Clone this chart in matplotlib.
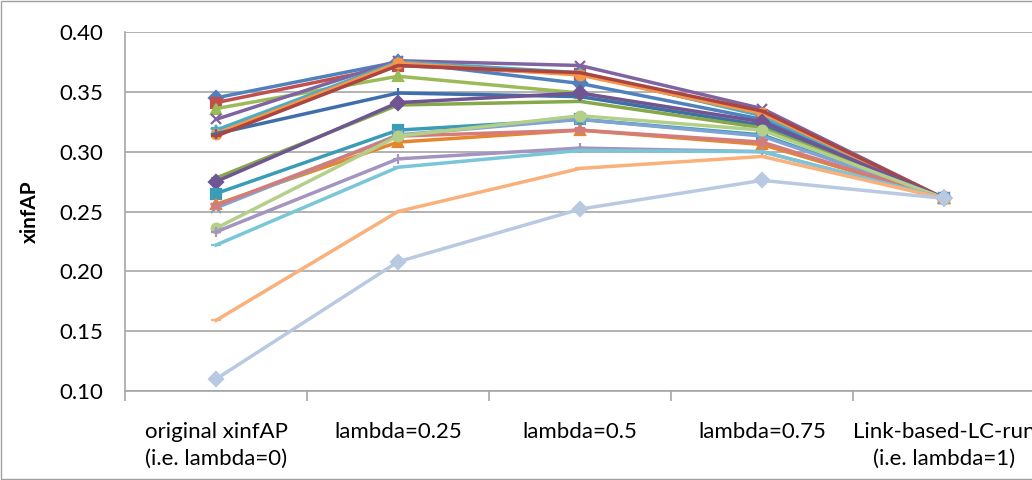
import matplotlib
matplotlib.use("Agg")
import matplotlib.pyplot as plt
from matplotlib.patches import Rectangle

plt.rcParams['font.family'] = ['Lato', 'DejaVu Sans']

categories = ["original xinfAP\n(i.e. lambda=0)", "lambda=0.25", "lambda=0.5",
              "lambda=0.75", "Link-based-LC-run\n(i.e. lambda=1)"]

# one list per run
s1 = [0.345, 0.375, 0.357, 0.327, 0.261]
s2 = [0.341, 0.372, 0.365, 0.331, 0.261]
s3 = [0.336, 0.363, 0.349, 0.322, 0.261]
s4 = [0.327, 0.376, 0.372, 0.336, 0.261]
s5 = [0.318, 0.375, 0.366, 0.330, 0.261]
s6 = [0.315, 0.374, 0.364, 0.332, 0.261]
s7 = [0.315, 0.349, 0.346, 0.322, 0.261]
s8 = [0.313, 0.372, 0.366, 0.334, 0.261]
s9 = [0.278, 0.339, 0.342, 0.320, 0.261]
s10 = [0.275, 0.341, 0.349, 0.325, 0.261]
s11 = [0.265, 0.318, 0.327, 0.314, 0.261]
s12 = [0.256, 0.308, 0.318, 0.306, 0.261]
s13 = [0.253, 0.314, 0.327, 0.313, 0.261]
s14 = [0.255, 0.313, 0.318, 0.308, 0.261]
s15 = [0.236, 0.313, 0.330, 0.318, 0.261]
s16 = [0.233, 0.294, 0.303, 0.300, 0.261]
s17 = [0.222, 0.287, 0.301, 0.300, 0.261]
s18 = [0.159, 0.250, 0.286, 0.296, 0.261]
s19 = [0.110, 0.208, 0.252, 0.276, 0.261]

series = [s1, s2, s3, s4, s5, s6, s7, s8, s9, s10,
          s11, s12, s13, s14, s15, s16, s17, s18, s19]

colors = ['#4F81BD', '#C0504D', '#9BBB59', '#8064A2', '#4BACC6', '#F79646',
          '#3F6FAB', '#A94643', '#86A84A', '#6F5592', '#3A9CB6', '#E6852F',
          '#7FA3D3', '#D37D7A', '#B3CF88', '#A495C0', '#79C6D8', '#FAB07A',
          '#B9C9E2']
markers = ['D', 's', '^', 'x', '*', 'o', '+', '_', '_',
           'D', 's', '^', 'x', '*', 'o', '+', '_', '_', 'D']

fig = plt.figure(figsize=(10.32, 4.8), dpi=100)
ax = fig.add_axes([125 / 1032, 1 - 391 / 480, 907 / 1032, 359 / 480])

x = list(range(len(categories)))
for vals, c, m in zip(series, colors, markers):
    ax.plot(x, vals, color=c, lw=2.5, marker=m, markersize=7,
            markeredgewidth=1.6, markeredgecolor=c, markerfacecolor=c)

ax.set_xlim(-0.5, 4.483)
ax.set_ylim(0.10, 0.40)
ax.set_yticks([0.10, 0.15, 0.20, 0.25, 0.30, 0.35, 0.40])
ax.set_yticklabels(['%.2f' % v for v in ax.get_yticks()], fontsize=16)
ax.yaxis.grid(True, color='#A6A6A6', lw=1.2)
ax.set_axisbelow(True)
ax.tick_params(axis='y', length=0, pad=16)

ax.set_xticks(x)
ax.set_xticklabels(categories, fontsize=16, linespacing=1.45)
ax.tick_params(axis='x', length=0, pad=22)
ax.set_xticks([-0.5, 0.5, 1.5, 2.5, 3.5], minor=True)
ax.tick_params(axis='x', which='minor', length=7, color='#A6A6A6', width=1.2)

for sp in ['top', 'right']:
    ax.spines[sp].set_visible(False)
ax.spines['left'].set_color('#A6A6A6')
ax.spines['bottom'].set_color('#A6A6A6')
ax.spines['left'].set_linewidth(1.2)
ax.spines['bottom'].set_linewidth(1.2)

ax.set_ylabel('xinfAP', fontsize=15, fontweight='bold', labelpad=14)

fig.patches.append(Rectangle((0.001, 0.002), 1.5, 0.995, transform=fig.transFigure,
                             fill=False, edgecolor='#A0A0A0', lw=1))

fig.savefig('out.png', dpi=100)
